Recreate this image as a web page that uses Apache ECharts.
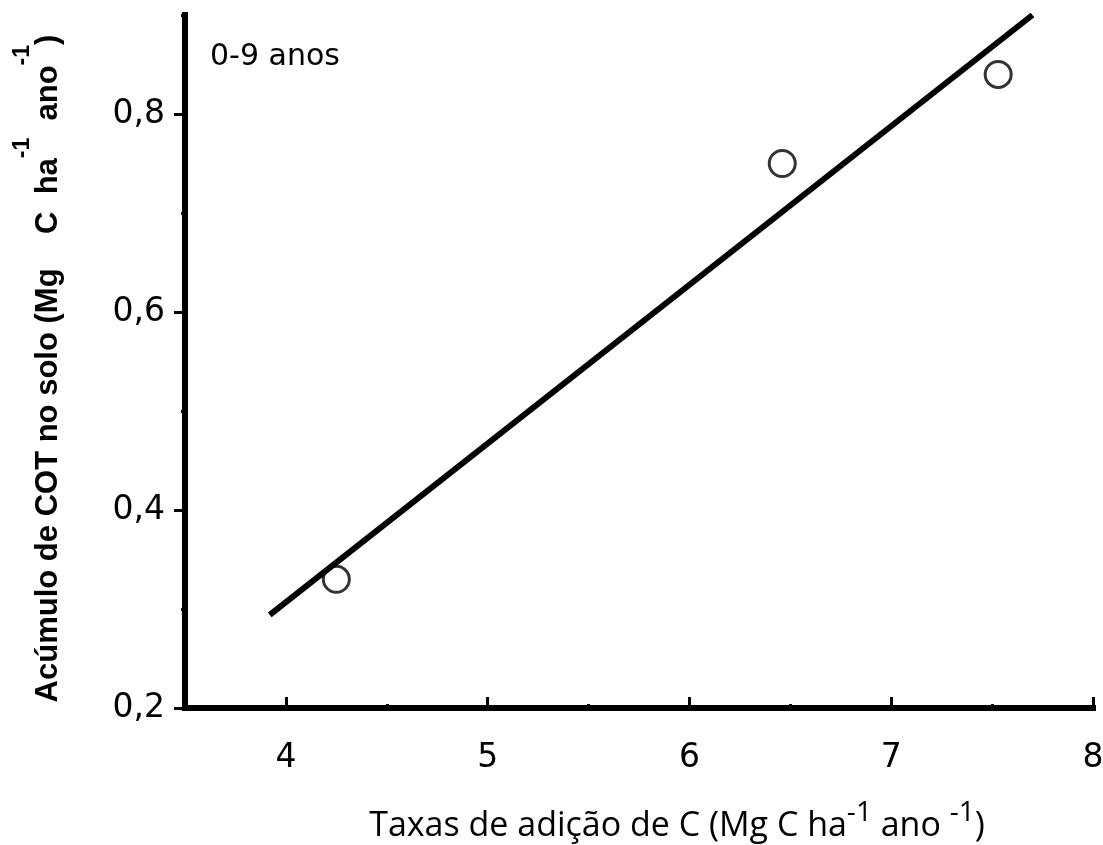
<!DOCTYPE html>
<html>
<head>
<meta charset="utf-8">
<script src="https://cdn.jsdelivr.net/npm/echarts@6/dist/echarts.min.js"></script>
<style>
  html, body { margin: 0; padding: 0; background: #fff; }
  #chart { width: 1103px; height: 845px; }
</style>
</head>
<body>
<div id="chart"></div>
<script>
// measured points (taxa de adição, acúmulo de COT)
var pointX = [4.25, 6.46, 7.53];
var pointY = [0.33, 0.75, 0.84];
// fitted line end points
var fitX = [3.92, 7.70];
var fitY = [0.294, 0.900];
// tick values with labels
var xMajor = [4, 5, 6, 7, 8];
var yMajor = [0.2, 0.4, 0.6, 0.8];

var tickFont = 'DejaVu Sans';

var chart = echarts.init(document.getElementById('chart'));

var option = {
    backgroundColor: '#fff',
    animation: false,
    grid: { left: 185, top: 15, width: 908, height: 693, outerBoundsMode: 'none', containLabel: false },
    graphic: [
        {
            type: 'text', left: 210, top: 42,
            style: { text: '0-9 anos', font: '30px "DejaVu Sans"', fill: '#000' }
        }
    ],
    xAxis: [
        {
            type: 'value', min: 3.5, max: 8, interval: 0.5,
            axisLine: { lineStyle: { color: '#000', width: 6, cap: 'square' } },
            axisTick: { inside: true, length: 4, lineStyle: { color: '#000', width: 3 } },
            axisLabel: { show: false },
            splitLine: { show: false },
            // title sits a bit right of the plot centre in the original
            name: '{p|Taxas de adição de C (Mg C ha}{s|-1}{t| ano }{s|-1}{t|)}',
            nameLocation: 'middle', nameGap: 93,
            nameTextStyle: {
                rich: {
                    p: { fontFamily: 'Open Sans', fontSize: 34, color: '#000', lineHeight: 50, padding: [0, 0, 0, 76] },
                    t: { fontFamily: 'Open Sans', fontSize: 34, color: '#000', lineHeight: 50 },
                    s: { fontFamily: 'Open Sans', fontSize: 28, color: '#000', lineHeight: 24, padding: [0, 0, 26, 0] }
                }
            }
        },
        {
            type: 'value', min: 3.5, max: 8, position: 'bottom',
            axisLine: { show: false },
            axisTick: { show: true, inside: true, length: 11, customValues: xMajor, lineStyle: { color: '#000', width: 3 } },
            axisLabel: {
                customValues: xMajor, margin: 34, color: '#000',
                fontFamily: tickFont, fontSize: 33
            },
            splitLine: { show: false }
        }
    ],
    yAxis: [
        {
            type: 'value', min: 0.2, max: 0.9, interval: 0.1,
            axisLine: { show: true, lineStyle: { color: '#000', width: 6, cap: 'square' } },
            axisTick: { show: true, length: 4, lineStyle: { color: '#000', width: 3 } },
            axisLabel: { show: false },
            splitLine: { show: false },
            name: '{b|Acúmulo de COT no solo (Mg    C  ha}{s|-1}{b|  ano}{s|-1}{e|)}',
            nameLocation: 'middle', nameGap: 107,
            nameTextStyle: {
                rich: {
                    b: { fontFamily: 'Liberation Sans', fontWeight: 'bold', fontSize: 31, color: '#000', lineHeight: 60 },
                    e: { fontFamily: 'Liberation Sans', fontWeight: 'bold', fontSize: 31, color: '#000', lineHeight: 60, padding: [0, 14, 0, 0] },
                    s: { fontFamily: 'Liberation Sans', fontWeight: 'bold', fontSize: 23, color: '#000', lineHeight: 10, padding: [0, 0, 50, 0] }
                }
            }
        },
        {
            type: 'value', min: 0.2, max: 0.9, position: 'left',
            axisLine: { show: false },
            axisTick: { show: true, length: 11, customValues: yMajor, lineStyle: { color: '#000', width: 3 } },
            axisLabel: {
                customValues: yMajor, margin: 20, color: '#000',
                fontFamily: tickFont, fontSize: 33,
                formatter: function (v) { return v.toFixed(1).replace('.', ','); }
            },
            splitLine: { show: false }
        }
    ],
    series: [
        {
            type: 'scatter',
            data: pointX.map(function (x, i) { return [x, pointY[i]]; }),
            symbol: 'circle', symbolSize: 26,
            itemStyle: { color: 'rgba(0,0,0,0)', borderColor: '#000', borderWidth: 3 },
            z: 2
        },
        {
            type: 'line',
            data: fitX.map(function (x, i) { return [x, fitY[i]]; }),
            showSymbol: false, symbol: 'none',
            lineStyle: { color: '#000', width: 6 },
            z: 3
        }
    ]
};

chart.setOption(option);
</script>
</body>
</html>
